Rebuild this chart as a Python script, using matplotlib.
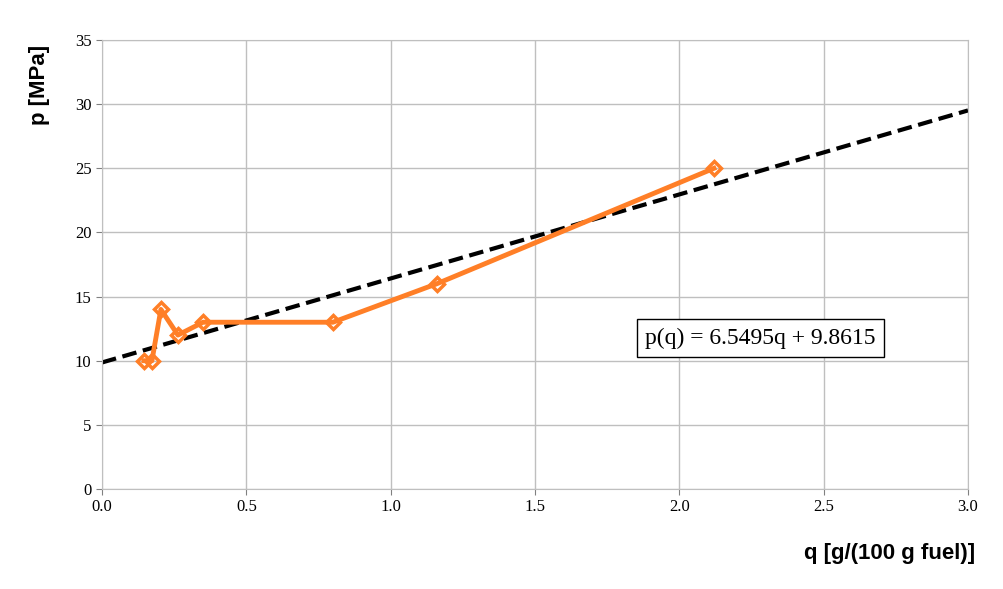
import matplotlib
matplotlib.use("Agg")
import matplotlib.pyplot as plt
import numpy as np

q_vals = [0.145, 0.173, 0.204, 0.263, 0.35, 0.80, 1.16, 2.12]
p_vals = [10, 10, 14, 12, 13, 13, 16, 25]
slope, intercept = 6.5495, 9.8615

fig = plt.figure(figsize=(10.04, 5.89), dpi=100)
ax = fig.add_axes([102 / 1004, 1 - 489 / 589, 866 / 1004, 449 / 589])

qq = np.array([0.0, 3.0])
ax.plot(qq, slope * qq + intercept, color="black", linestyle=(0, (3.5, 1.6)), linewidth=3, zorder=2)
ax.plot(q_vals, p_vals, color="#FF7F27", linewidth=3.5, marker="D", markersize=7,
        markerfacecolor="none", markeredgewidth=2.5, markeredgecolor="#FF7F27", zorder=3)

ax.set_xlim(0, 3)
ax.set_ylim(0, 35)
ax.set_xticks(np.arange(0, 3.01, 0.5))
ax.set_xticklabels([f"{v:.1f}" for v in np.arange(0, 3.01, 0.5)])
ax.set_yticks(range(0, 36, 5))
ax.grid(True, color="#BFBFBF", linewidth=1)
for s in ax.spines.values():
    s.set_color("#BFBFBF")
ax.tick_params(axis="both", length=4, colors="#808080", labelcolor="black", labelsize=12)
for lab in ax.get_xticklabels() + ax.get_yticklabels():
    lab.set_fontfamily("Liberation Serif")

fig.text(975 / 1004, 1 - 553 / 589, "q [g/(100 g fuel)]", ha="right", va="center",
         fontsize=16, fontweight="bold", family="Liberation Sans")
fig.text(40 / 1004, 1 - 85 / 589, "p [MPa]", ha="center", va="center", rotation=90,
         fontsize=16, fontweight="bold", family="Liberation Sans")
ax.text(2.28, 11.75, "p(q) = 6.5495q + 9.8615", ha="center", va="center", fontsize=17,
        family="Liberation Serif",
        bbox=dict(boxstyle="square,pad=0.35", facecolor="white", edgecolor="black", linewidth=1))

fig.savefig("out.png", dpi=100)
